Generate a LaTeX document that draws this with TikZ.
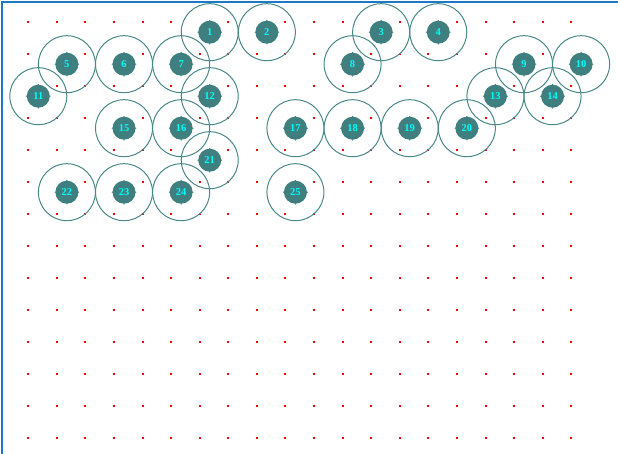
\documentclass[tikz,border=0pt]{standalone}
\usepackage{fontspec}
\setmainfont{Liberation Serif}
\definecolor{ringc}{HTML}{4A8888}
\definecolor{corec}{HTML}{3F7F7F}
\definecolor{framec}{HTML}{1E78C8}
\definecolor{labelc}{HTML}{00FFFF}
\tikzset{
  core/.style={circle, fill=corec, minimum size=23pt, inner sep=0pt, text=labelc, font=\bfseries\fontsize{10.5}{10.5}\selectfont},
  ring/.style={draw=ringc, line width=1pt},
  gridpt/.style={fill=red},
  notch/.style={fill=corec},
  frameline/.style={draw=framec, line width=2pt}
}
\begin{document}
\begin{tikzpicture}[x=1pt,y=-1pt]
\useasboundingbox (0,0) rectangle (618,454);
% grid points hidden under the nodes
\foreach \j/\i in {6/0,8/0,12/0,14/0,1/1,3/1,5/1,11/1,17/1,19/1,0/2,6/2,16/2,18/2,3/3,5/3,9/3,11/3,13/3,15/3,6/4,1/5,3/5,5/5,9/5}{
  \expandafter\gdef\csname hid-\j-\i\endcsname{}
}
\foreach \px [count=\jj from 0] in {28,57,85,114,143,171,200,228,257,285,314,343,371,400,428,457,486,514,543,571}{
  \foreach \i in {0,...,13}{
    \ifcsname hid-\jj-\i\endcsname\else
      \fill[gridpt] ({\px-1.4},{22+32*\i-1.4}) rectangle ++(2.8,2.8);
    \fi
  }
}
% nodes
\foreach \n/\k/\r in {1/7/1,2/9/1,3/13/1,4/15/1,5/2/2,6/4/2,7/6/2,8/12/2,9/18/2,10/20/2,11/1/3,12/7/3,13/17/3,14/19/3,15/4/4,16/6/4,17/10/4,18/12/4,19/14/4,20/16/4,21/7/5,22/2/6,23/4/6,24/6/6,25/10/6}{
  \node[core] (n\n) at ({38.3+28.57*(\k-1)},{32*\r+0.2}) {\n};
  \foreach \a in {0,90,180,270}{
    \fill[notch] (n\n.\a) circle[radius=0.7];
  }
  \draw[ring] (n\n.center) circle[radius=28.5];
}
% frame
\draw[frameline] (2,454) -- (2,2) -- (618,2);
\end{tikzpicture}
\end{document}
